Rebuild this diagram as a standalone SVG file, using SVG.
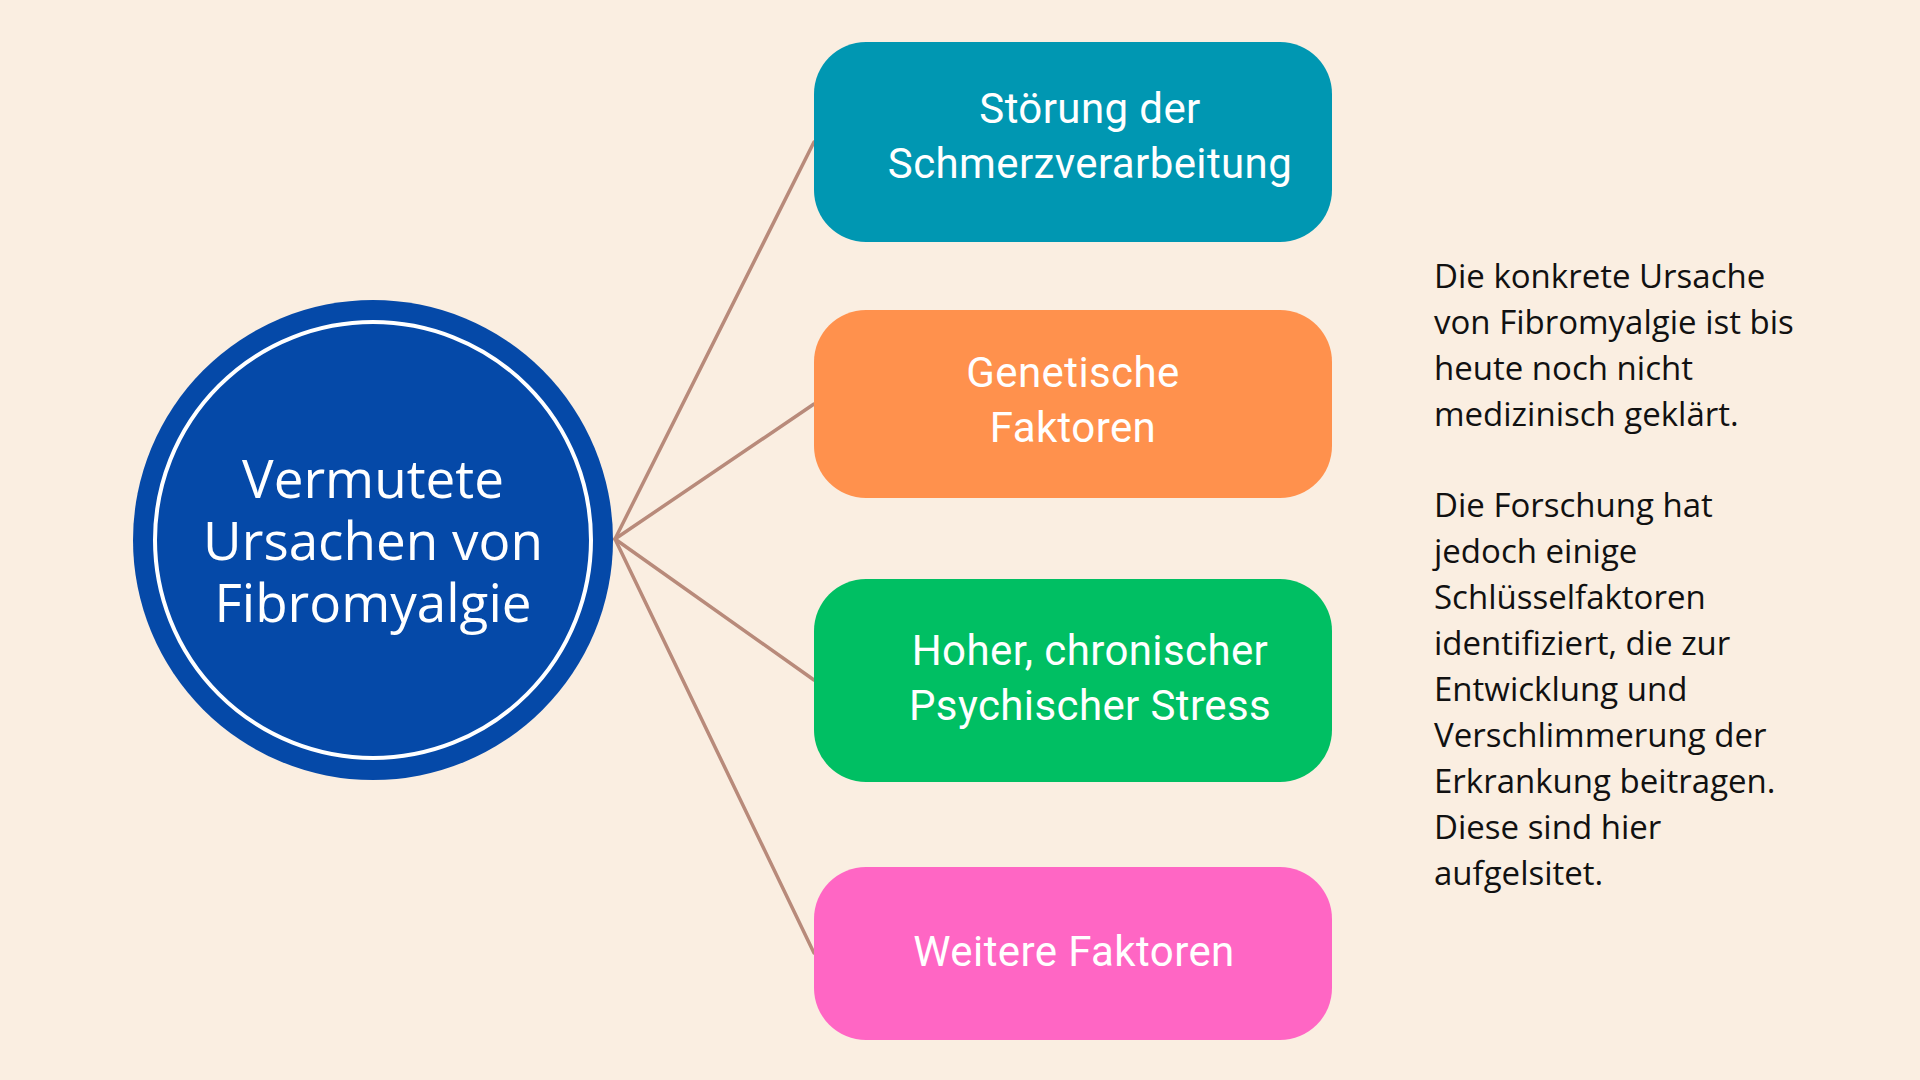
<svg xmlns="http://www.w3.org/2000/svg" width="1920" height="1080" viewBox="0 0 1920 1080">
<style>
.box-label{font-family:Roboto,"Liberation Sans",sans-serif;font-size:42px;fill:#ffffff;text-anchor:middle;letter-spacing:0.4px}
.center-label{font-family:"Open Sans","Liberation Sans",sans-serif;font-size:53px;fill:#ffffff;text-anchor:middle}
.note{font-family:"Open Sans","Liberation Sans",sans-serif;font-size:33px;fill:#111111}
.conn{stroke:#B88A7A;stroke-width:3.5;fill:none;stroke-linecap:round}
</style>
<rect x="0" y="0" width="1920" height="1080" fill="#FAEEE1"/>
<g id="connectors">
<line class="conn" x1="615" y1="539" x2="814" y2="142"/>
<line class="conn" x1="615" y1="539" x2="814" y2="404"/>
<line class="conn" x1="615" y1="539" x2="814" y2="680"/>
<line class="conn" x1="615" y1="539" x2="814" y2="953"/>
</g>
<g id="center">
<circle cx="373" cy="540" r="240" fill="#0549A8"/>
<circle cx="373" cy="540" r="218" fill="none" stroke="#ffffff" stroke-width="4"/>
<text class="center-label" x="373" y="498">Vermutete</text>
<text class="center-label" x="373" y="560">Ursachen von</text>
<text class="center-label" x="373" y="622">Fibromyalgie</text>
</g>
<g id="box1">
<rect x="814" y="42" width="518" height="200" rx="52" fill="#0097B2"/>
<text class="box-label" x="1090" y="123">Störung der</text>
<text class="box-label" x="1090" y="178">Schmerzverarbeitung</text>
</g>
<g id="box2">
<rect x="814" y="310" width="518" height="188" rx="52" fill="#FF914D"/>
<text class="box-label" x="1073" y="387">Genetische</text>
<text class="box-label" x="1073" y="442">Faktoren</text>
</g>
<g id="box3">
<rect x="814" y="579" width="518" height="203" rx="52" fill="#00BF63"/>
<text class="box-label" x="1090" y="665">Hoher, chronischer</text>
<text class="box-label" x="1090" y="720">Psychischer Stress</text>
</g>
<g id="box4">
<rect x="814" y="867" width="518" height="173" rx="52" fill="#FF66C4"/>
<text class="box-label" x="1074" y="966">Weitere Faktoren</text>
</g>
<g id="note">
<text class="note" x="1434" y="288">Die konkrete Ursache</text>
<text class="note" x="1434" y="334">von Fibromyalgie ist bis</text>
<text class="note" x="1434" y="380">heute noch nicht</text>
<text class="note" x="1434" y="426">medizinisch geklärt.</text>
<text class="note" x="1434" y="517">Die Forschung hat</text>
<text class="note" x="1434" y="563">jedoch einige</text>
<text class="note" x="1434" y="609">Schlüsselfaktoren</text>
<text class="note" x="1434" y="655">identifiziert, die zur</text>
<text class="note" x="1434" y="701">Entwicklung und</text>
<text class="note" x="1434" y="747">Verschlimmerung der</text>
<text class="note" x="1434" y="793">Erkrankung beitragen.</text>
<text class="note" x="1434" y="839">Diese sind hier</text>
<text class="note" x="1434" y="885">aufgelsitet.</text>
</g>
</svg>
